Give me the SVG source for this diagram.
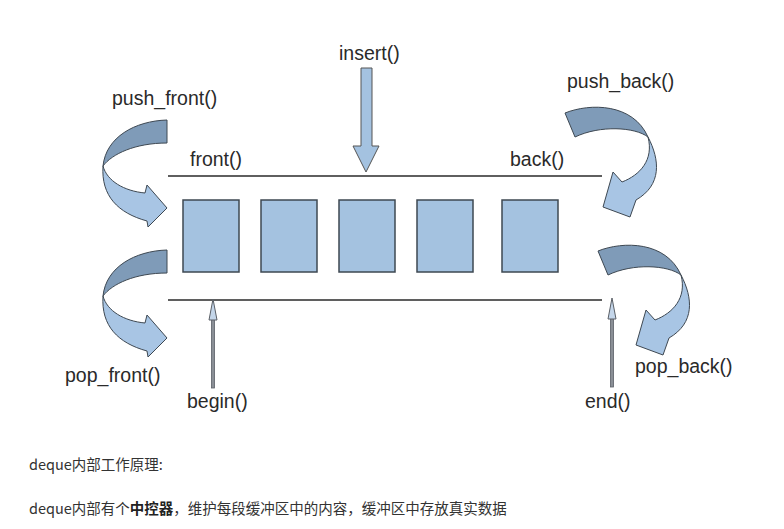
<svg xmlns="http://www.w3.org/2000/svg" width="784" height="529" viewBox="0 0 784 529">
<defs>
<style>
.lbl{font-family:"Liberation Sans",Arial,sans-serif;font-size:19.5px;fill:#2a2a2a}
.cn{font-family:"Noto Sans CJK SC","Noto Sans",sans-serif;font-size:14.5px;fill:#333}
.box{fill:#a4c2e0;stroke:#3e4852;stroke-width:1.5}
.rail{stroke:#5f5f5f;stroke-width:2}
.dk{fill:#7f9bb8;stroke:#3e4852;stroke-width:1}
.lt{fill:#a8c5e4;stroke:#3e4852;stroke-width:1}
.shaft{fill:#8a8f96;stroke:#5a5f66;stroke-width:0.8}
.head{fill:#c4d6ea;stroke:#5a5f66;stroke-width:1}
</style>
<g id="curveL">
<path class="dk" d="M167,120 C135,121 106,137 103,166 C112,154 135,143 167,143 Z"/>
<path class="lt" d="M103,166 C107,181 124,191 145,193 L147,185 L167,208 L148,227 L147,221 C118,213 101,196 103,166 Z"/>
</g>
<g id="curveR">
<path class="dk" d="M565,113 C590,103 633,103 648,137 C635,127 600,125 575,137 Z"/>
<path class="lt" d="M648,137 C660,160 662,185 636,200 L630,217 L603,207 L613,172 L622,182 C640,175 654,160 648,137 Z"/>
</g>
</defs>
<rect width="784" height="529" fill="#fff"/>

<g id="connectors">
<line class="rail" x1="168" y1="176" x2="602" y2="176"/>
<line class="rail" x1="168" y1="300" x2="602" y2="300"/>
</g>

<g id="box1"><rect class="box" x="183" y="200" width="56" height="72"/></g>
<g id="box2"><rect class="box" x="261" y="200" width="56" height="72"/></g>
<g id="box3"><rect class="box" x="339" y="200" width="56" height="72"/></g>
<g id="box4"><rect class="box" x="417" y="200" width="56" height="72"/></g>
<g id="box5"><rect class="box" x="502" y="200" width="56" height="72"/></g>

<g id="insert">
<text class="lbl" x="339" y="60">insert()</text>
<path d="M361,68 H372 V146 H379 L366,172 L353,146 H361 Z" fill="#a4c2e0" stroke="#555" stroke-width="1"/>
</g>

<g id="push_front">
<text class="lbl" x="112" y="105">push_front()</text>
<use href="#curveL"/>
</g>

<g id="pop_front">
<use href="#curveL" transform="translate(0,130)"/>
<text class="lbl" x="65" y="382">pop_front()</text>
</g>

<g id="push_back">
<text class="lbl" x="567" y="88">push_back()</text>
<use href="#curveR"/>
</g>

<g id="pop_back">
<use href="#curveR" transform="translate(33,138)"/>
<text class="lbl" x="635" y="373">pop_back()</text>
</g>

<g id="front"><text class="lbl" x="190" y="166">front()</text></g>
<g id="back"><text class="lbl" x="510" y="166">back()</text></g>

<g id="begin">
<rect class="shaft" x="211.5" y="318" width="3" height="70"/>
<path class="head" d="M213,299 L217,320 L209,320 Z"/>
<text class="lbl" x="187" y="408">begin()</text>
</g>

<g id="end">
<rect class="shaft" x="610.5" y="318" width="3" height="69"/>
<path class="head" d="M612,298 L616,319 L608,319 Z"/>
<text class="lbl" x="585" y="408">end()</text>
</g>

<g id="caption">
<text class="cn" x="29" y="470">deque内部工作原理:</text>
<text class="cn" x="29" y="514">deque内部有个<tspan font-weight="bold" fill="#222">中控器</tspan>，维护每段缓冲区中的内容，缓冲区中存放真实数据</text>
</g>
</svg>
